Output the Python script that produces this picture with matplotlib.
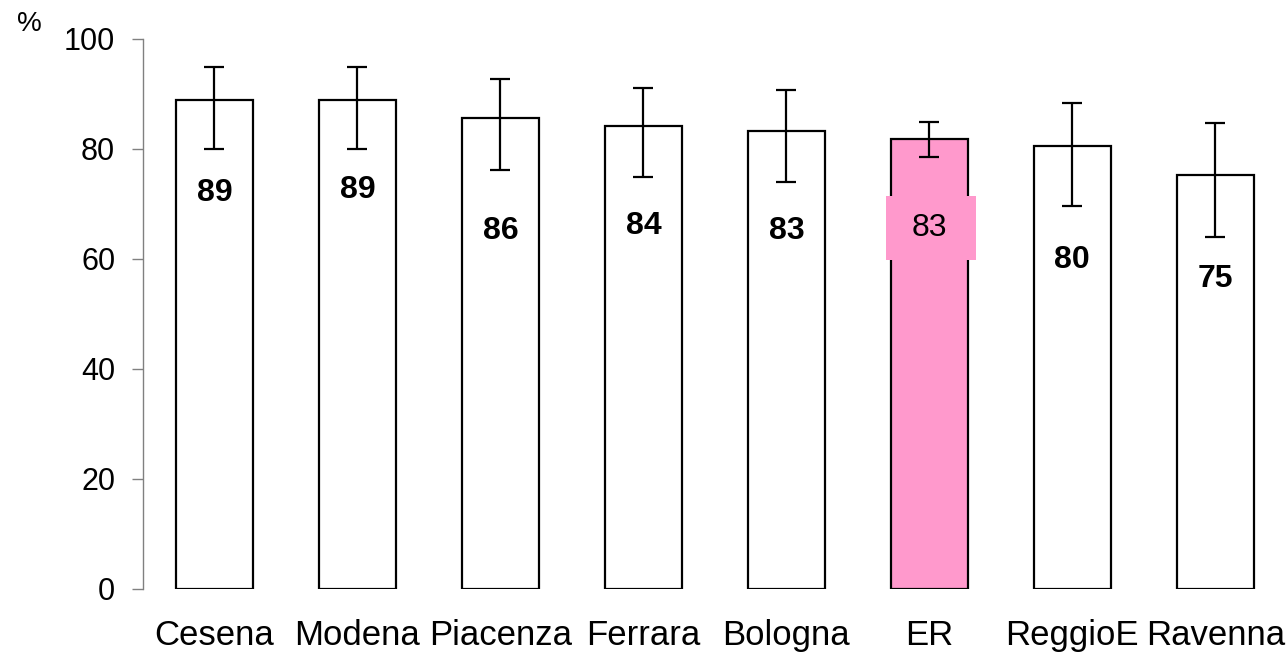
import matplotlib.pyplot as plt
from matplotlib.patches import Rectangle
import numpy as np

plt.rcParams['font.family'] = ['Liberation Sans', 'DejaVu Sans']

# dati
categories = ["Cesena", "Modena", "Piacenza", "Ferrara", "Bologna", "ER", "ReggioE", "Ravenna"]
values = [88.9, 88.8, 85.5, 84.1, 83.2, 81.7, 80.4, 75.2]
err_low = [79.9, 79.9, 76.1, 74.8, 73.9, 78.5, 69.5, 64.0]
err_high = [94.8, 94.9, 92.6, 91.1, 90.6, 84.9, 88.3, 84.6]
labels = ["89", "89", "86", "84", "83", "83", "80", "75"]
label_y = [72, 72.5, 65, 66, 65.1, 65.6, 59.7, 56.2]

pink = "#FF99CC"
colors = [pink if c == "ER" else "white" for c in categories]

fig = plt.figure(figsize=(12.88, 6.55), dpi=100)
ax = fig.add_axes([0.111, 0.1015, 0.888, 0.8395])

x = np.arange(len(categories))
vals = np.array(values)
yerr = [vals - np.array(err_low), np.array(err_high) - vals]

ax.bar(x, vals, width=0.54, color=colors, edgecolor="black", linewidth=1.6, zorder=2)
ax.errorbar(x, vals, yerr=yerr, fmt="none", ecolor="black", elinewidth=1.6,
            capsize=7.5, capthick=1.6, zorder=3)

for i, (lab, ly) in enumerate(zip(labels, label_y)):
    if categories[i] == "ER":
        # riquadro rosa dietro l'etichetta
        ax.add_patch(Rectangle((x[i] - 0.3, ly - 5.8), 0.63, 11.6,
                               facecolor=pink, edgecolor="none", zorder=3.5))
        ax.text(x[i], ly, lab, ha="center", va="center", fontsize=23, zorder=4)
    else:
        ax.text(x[i], ly, lab, ha="center", va="center", fontsize=23,
                fontweight="bold", zorder=4)

ax.set_xlim(-0.5, 7.5)
ax.set_ylim(0, 100)
ax.set_yticks([0, 20, 40, 60, 80, 100])
ax.set_xticks(x)
ax.set_xticklabels(categories)

for s in ["top", "right", "bottom"]:
    ax.spines[s].set_visible(False)
ax.spines["left"].set_color("#808080")
ax.spines["left"].set_linewidth(1)

ax.tick_params(axis="y", direction="out", length=8, width=1, color="#808080",
               labelsize=22, pad=12)
ax.tick_params(axis="x", length=0, labelsize=25, pad=22)

fig.text(0.023, 0.963, "%", fontsize=20, ha="center", va="center")

plt.savefig("out.png", dpi=100)
